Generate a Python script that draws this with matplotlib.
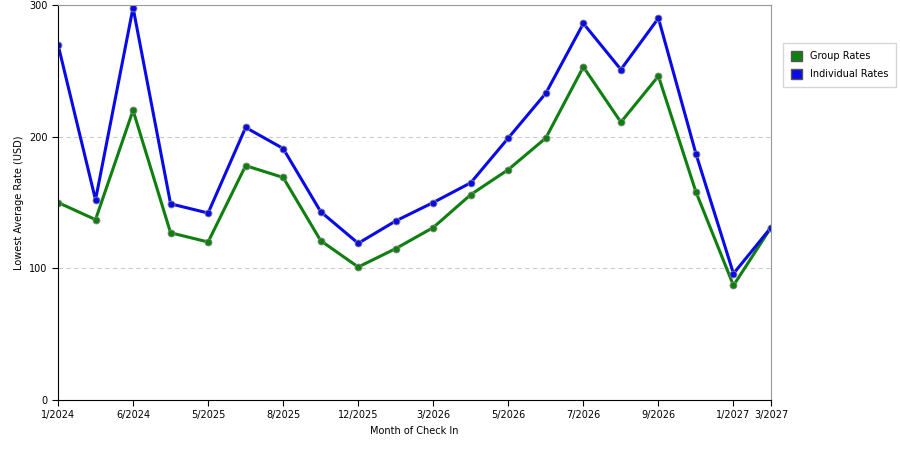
import matplotlib
matplotlib.use("Agg")
import matplotlib.pyplot as plt
from matplotlib.patches import Patch

months = ["1/2024", "", "6/2024", "", "5/2025", "", "8/2025", "", "12/2025", "",
          "3/2026", "", "5/2026", "", "7/2026", "", "9/2026", "", "1/2027", "3/2027"]
group_rates = [150, 137, 220, 127, 120, 178, 169, 121, 101, 115,
               131, 156, 175, 199, 253, 211, 246, 158, 87, 131]
individual_rates = [270, 152, 298, 149, 142, 207, 191, 143, 119, 136,
                    150, 165, 199, 233, 286, 251, 290, 187, 96, 131]

fig = plt.figure(figsize=(9, 4.5), dpi=100)
ax = fig.add_axes([58 / 900, 50 / 450, 713 / 900, 395 / 450])
x = range(len(months))
for vals, col, lab in [(group_rates, "#0f7f0f", "Group Rates"),
                       (individual_rates, "#0a0ae6", "Individual Rates")]:
    ax.plot(x, vals, color=col, lw=2.2, marker="o", ms=5,
            markerfacecolor=col, markeredgecolor="#888888", mew=0.6, label=lab)

ax.set_xlim(0, len(months) - 1)
ax.set_ylim(0, 300)
ax.set_yticks([0, 100, 200, 300])
ax.set_xticks(list(x))
ax.set_xticklabels(months)
ax.tick_params(labelsize=7, length=4)
for t, lab in zip(ax.xaxis.get_major_ticks(), months):
    if not lab:
        t.tick1line.set_visible(False)
ax.yaxis.grid(True, ls=(0, (4, 3)), color="#cccccc", lw=0.8)
ax.set_axisbelow(True)
for s in ax.spines.values():
    s.set_color("#999999")
ax.spines["left"].set_color("black")
ax.spines["bottom"].set_color("black")
ax.set_xlabel("Month of Check In", fontsize=7)
ax.set_ylabel("Lowest Average Rate (USD)", fontsize=7)

handles, labels = ax.get_legend_handles_labels()
patches = [Patch(facecolor=h.get_color(), edgecolor="#555555") for h in handles]
fig.legend(patches, labels, loc="upper left", bbox_to_anchor=(778 / 900, 1 - 38 / 450),
           fontsize=7, frameon=True, fancybox=False, edgecolor="#cccccc",
           handlelength=1.2, handleheight=1.2, labelspacing=0.8, borderpad=0.8)
fig.savefig("out.png", dpi=100)
